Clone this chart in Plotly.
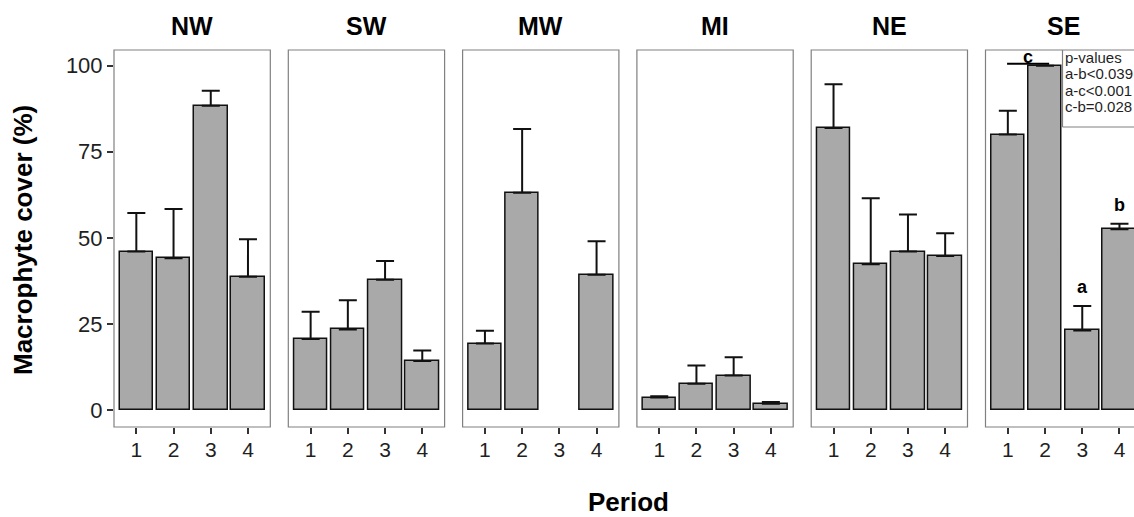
import plotly.graph_objects as go

# ---- data -------------------------------------------------------------
regions = ["NW", "SW", "MW", "MI", "NE", "SE"]
periods = [1, 2, 3, 4]
period_labels = ["1", "2", "3", "4"]
y_ticks = [0, 25, 50, 75, 100]

nw_mean = [46.0, 44.1, 88.4, 38.7]
nw_se = [11.2, 14.3, 4.3, 10.9]
sw_mean = [20.6, 23.4, 37.8, 14.2]
sw_se = [7.9, 8.5, 5.5, 3.1]
mw_mean = [19.3, 63.1, None, 39.3]
mw_se = [3.7, 18.5, None, 9.7]
mi_mean = [3.6, 7.6, 10.0, 1.8]
mi_se = [0.4, 5.3, 5.3, 0.5]
ne_mean = [81.9, 42.3, 46.0, 44.7]
ne_se = [12.7, 19.2, 10.8, 6.6]
se_mean = [80.0, 100.0, 23.1, 52.5]
se_se = [6.9, 0.0, 7.1, 1.6]

se_letters = ["", "", "a", "b"]
p_value_lines = ["p-values", "a-b<0.039", "a-c<0.001", "c-b=0.028"]

means = [nw_mean, sw_mean, mw_mean, mi_mean, ne_mean, se_mean]
errors = [nw_se, sw_se, mw_se, mi_se, ne_se, se_se]

# ---- styling / geometry ----------------------------------------------
W, H = 1134, 517
FONT = "Liberation Sans, Arial, sans-serif"
BAR_FILL = "#a9a9a9"
BAR_LINE = "#111111"
FRAME = "#808080"
TICK_COL = "#333333"
TEXT_COL = "#1f1f1f"

panel_left0 = 114.0
panel_step = 174.3
panel_w = 156.3
panel_top = 50.0
panel_bottom = 427.0
x_lo, x_hi = 0.4, 4.6
y_range = [-4.94, 104.56]


def px_x(v):
    return v / W


def px_y(v):
    return 1 - v / H


fig = go.Figure()

for i, (reg, m, s) in enumerate(zip(regions, means, errors)):
    idx = "" if i == 0 else str(i + 1)
    left = panel_left0 + i * panel_step
    right = left + panel_w
    unit_px = panel_w / (x_hi - x_lo)
    if right > W:
        r_hi = x_lo + (W - left) / unit_px
        dom_right = W
    else:
        r_hi = x_hi
        dom_right = right

    fig.add_trace(go.Bar(
        x=periods, y=m, width=0.9,
        marker=dict(color=BAR_FILL, line=dict(color=BAR_LINE, width=1.5)),
        error_y=dict(type="data", symmetric=False, array=s,
                     arrayminus=[None if v is None else 0 for v in s],
                     color=BAR_LINE, thickness=2, width=9),
        xaxis="x" + idx, yaxis="y" + idx,
        showlegend=False, hoverinfo="skip",
    ))

    fig.layout["xaxis" + idx] = dict(
        domain=[px_x(left), px_x(dom_right)], range=[x_lo, r_hi],
        anchor="y" + idx, tickmode="array", tickvals=periods, ticktext=period_labels,
        ticks="outside", ticklen=6, tickwidth=1.5, tickcolor=TICK_COL,
        ticklabelstandoff=-2,
        tickfont=dict(family=FONT, size=21, color=TEXT_COL),
        showgrid=False, zeroline=False, showline=False, fixedrange=True,
    )
    first = i == 0
    fig.layout["yaxis" + idx] = dict(
        domain=[px_y(panel_bottom), px_y(panel_top)], range=y_range,
        anchor="x" + idx, tickmode="array", tickvals=y_ticks if first else [],
        showticklabels=first, ticks="outside" if first else "",
        ticklen=6, tickwidth=1.5, tickcolor=TICK_COL,
        tickfont=dict(family=FONT, size=22, color=TEXT_COL),
        showgrid=False, zeroline=False, showline=False, fixedrange=True,
    )

    # panel frame
    fig.add_shape(type="rect", xref="paper", yref="paper",
                  x0=px_x(left), x1=px_x(right),
                  y0=px_y(panel_bottom), y1=px_y(panel_top),
                  line=dict(color=FRAME, width=1.2), layer="above")

    # strip title
    fig.add_annotation(text="<b>%s</b>" % reg, xref="paper", yref="paper",
                       x=px_x(left + panel_w / 2), y=px_y(26.5),
                       xanchor="center", yanchor="middle", showarrow=False,
                       font=dict(family=FONT, size=25, color="black"))

# ---- SE panel annotations --------------------------------------------
for p, lab, mv, sv in zip(periods, se_letters, se_mean, se_se):
    if lab:
        fig.add_annotation(text="<b>%s</b>" % lab, xref="x6", yref="y6",
                           x=p, y=mv + sv, yshift=19, xanchor="center",
                           yanchor="middle", showarrow=False,
                           font=dict(family=FONT, size=18, color="black"))

# grouping bar marked "c" over periods 1-2
fig.add_shape(type="line", xref="x6", yref="y6", x0=0.98, x1=2.11,
              y0=100.6, y1=100.6, line=dict(color="black", width=2))
fig.add_annotation(text="<b>c</b>", xref="x6", yref="y6", x=1.53, y=100.6,
                   yshift=7, xanchor="center", yanchor="middle", showarrow=False,
                   font=dict(family=FONT, size=18, color="black"))

# p-value legend box
box_left = 1062.5
box_bottom = 127.0
fig.add_shape(type="line", xref="paper", yref="paper",
              x0=px_x(box_left), x1=px_x(box_left),
              y0=px_y(panel_top), y1=px_y(box_bottom),
              line=dict(color=FRAME, width=1.2))
fig.add_shape(type="line", xref="paper", yref="paper",
              x0=px_x(box_left), x1=px_x(1145),
              y0=px_y(box_bottom), y1=px_y(box_bottom),
              line=dict(color=FRAME, width=1.2))
for k, line in enumerate(p_value_lines):
    fig.add_annotation(text=line, xref="paper", yref="paper",
                       x=px_x(box_left + 0.5), y=px_y(57.5 + 16.3 * k),
                       xanchor="left", yanchor="middle", showarrow=False,
                       font=dict(family=FONT, size=15, color=TEXT_COL))

# ---- axis titles ------------------------------------------------------
fig.add_annotation(text="<b>Macrophyte cover (%)</b>", xref="paper", yref="paper",
                   x=px_x(23), y=px_y(240), textangle=-90,
                   xanchor="center", yanchor="middle", showarrow=False,
                   font=dict(family=FONT, size=26, color="black"))
fig.add_annotation(text="<b>Period</b>", xref="paper", yref="paper",
                   x=px_x(628), y=px_y(502), xanchor="center", yanchor="middle",
                   showarrow=False, font=dict(family=FONT, size=26, color="black"))

fig.update_layout(
    width=W, height=H, margin=dict(l=0, r=0, t=0, b=0),
    paper_bgcolor="white", plot_bgcolor="white",
    barmode="overlay", bargap=0, showlegend=False,
)

fig.write_html("out.html", config={"displayModeBar": False})
